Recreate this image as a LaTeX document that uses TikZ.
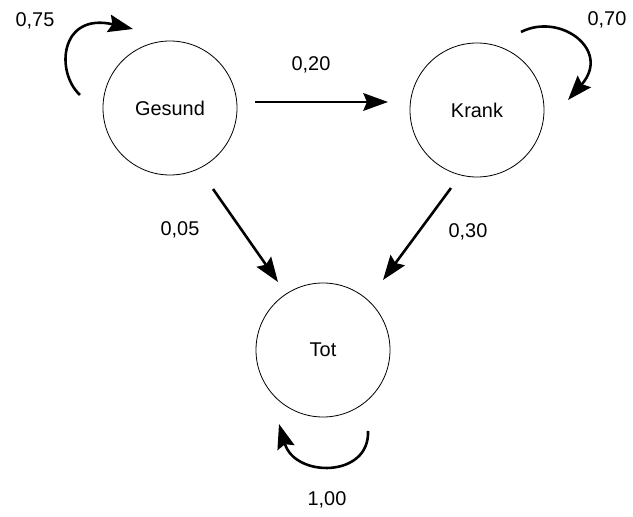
\documentclass[tikz,border=0pt]{standalone}
\usepackage{fontspec}
\setmainfont{Liberation Sans}
\usetikzlibrary{arrows.meta}

\begin{document}
\begin{tikzpicture}[x=0.03cm,y=-0.03cm,
    state/.style={circle,draw,line width=0.7pt,minimum size=4.02cm,inner sep=0pt,font=\fontsize{17}{20}\selectfont},
    prob/.style={font=\fontsize{17}{20}\selectfont},
    trans/.style={line width=2.2pt,-{Stealth[length=21pt,width=15pt,inset=3pt]}}]
            \useasboundingbox (0,0) rectangle (633,517);
            \node[state] (Gesund) at (170,108) {Gesund};
            \node[state] (Krank) at (477,110) {Krank};
            \node[state] (Tot) at (323,350) {Tot};
            \node[prob] (pGG) at (35,21) {0,75};
            \node[prob] (pGK) at (311,65) {0,20};
            \node[prob] (pKK) at (607,20) {0,70};
            \node[prob] (pGT) at (180,230) {0,05};
            \node[prob] (pKT) at (468,232) {0,30};
            \node[prob] (pTT) at (327,500) {1,00};
            \draw[trans] ([shift={(85,-6)}]Gesund.center) -- ([shift={(-89,-8)}]Krank.center);
            \draw[trans] ([shift={(43,81)}]Gesund.center) -- ([shift={(-45,-68)}]Tot.center);
            \draw[trans] ([shift={(-26,78)}]Krank.center) -- ([shift={(60,-70)}]Tot.center);
            \draw[trans] ([shift={(-90,-13)}]Gesund.center) .. controls +(-25,-23) and +(-73,-17) .. ([shift={(-37,-79)}]Gesund.center);
            \draw[trans] ([shift={(44,-78)}]Krank.center) .. controls +(39,-20) and +(44,-50) .. ([shift={(91,-10)}]Krank.center);
            \draw[trans] ([shift={(45,81)}]Tot.center) .. controls +(2,47) and +(16,54) .. ([shift={(-44,74)}]Tot.center);
\end{tikzpicture}
\end{document}
